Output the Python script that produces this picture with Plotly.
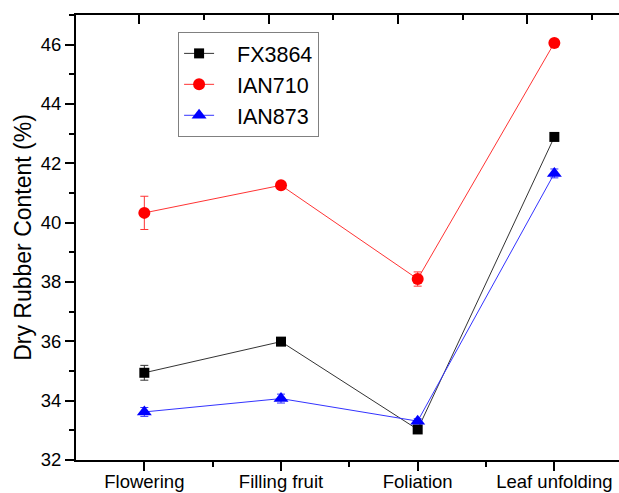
import plotly.graph_objects as go

stages = ["Flowering", "Filling fruit", "Foliation", "Leaf unfolding"]
series_names = ["FX3864", "IAN710", "IAN873"]
fx3864 = [34.94, 35.99, 33.03, 42.89]
fx3864_err = [0.25, 0.08, 0.08, 0.08]
ian710 = [40.33, 41.26, 38.10, 46.06]
ian710_err = [0.56, 0.08, 0.24, 0.10]
ian873 = [33.62, 34.07, 33.31, 41.66]
ian873_err = [0.15, 0.15, 0.08, 0.15]

xpos = [1, 2, 3, 4]
FONT = "Arial, Liberation Sans, sans-serif"
PAD = "\u00a0\u00a0\u00a0"

fig = go.Figure()

def add(name, y, err, color, linecolor, symbol, size):
    fig.add_trace(go.Scatter(
        x=xpos, y=y, name=PAD + name, mode="lines+markers",
        line=dict(color=linecolor, width=1),
        marker=dict(color=color, symbol=symbol, size=size, line=dict(width=0)),
        error_y=dict(type="data", array=err, visible=True, color=linecolor,
                     thickness=1, width=4),
    ))

add(series_names[0], fx3864, fx3864_err, "#000000", "#333333", "square", 10)
add(series_names[1], ian710, ian710_err, "#ff0000", "#ff3333", "circle", 12)
add(series_names[2], ian873, ian873_err, "#0000ff", "#3333ff", "triangle-up", 13)

# invisible trace for the top mirrored axis
fig.add_trace(go.Scatter(x=[1], y=[40], xaxis="x2", mode="markers",
                         marker=dict(opacity=0), showlegend=False, hoverinfo="skip"))

fig.update_layout(
    width=619, height=493,
    margin=dict(l=76, r=0, t=15, b=33, autoexpand=False),
    paper_bgcolor="white", plot_bgcolor="white",
    font=dict(family=FONT, color="black", size=18.5),
    showlegend=True,
    legend=dict(
        x=0.188, y=0.962, xanchor="left", yanchor="top",
        bordercolor="#808080", borderwidth=1, bgcolor="white",
        font=dict(family=FONT, size=21.5, color="black"),
        tracegroupgap=0, itemwidth=30,
    ),
    xaxis=dict(
        range=[0.5, 4.473], tickmode="array", tickvals=xpos, ticktext=stages,
        showgrid=False, zeroline=False, showline=True, linecolor="black", linewidth=2,
        ticks="outside", ticklen=9, tickwidth=2, tickcolor="black", automargin=False,
        ticklabelstandoff=-5,
        minor=dict(tickmode="array", tickvals=[1.5, 2.5, 3.5], ticks="outside",
                   ticklen=5, tickwidth=2, tickcolor="black"),
        tickfont=dict(size=18.5),
    ),
    xaxis2=dict(
        overlaying="x", side="top", range=[0.51, 4.71],
        tickmode="linear", tick0=0, dtick=1, showticklabels=False, automargin=False,
        showgrid=False, zeroline=False, showline=True, linecolor="black", linewidth=2,
        ticks="inside", ticklen=9, tickwidth=2, tickcolor="black",
        minor=dict(dtick=0.5, ticks="inside", ticklen=5, tickwidth=2, tickcolor="black"),
    ),
    yaxis=dict(
        range=[32, 47], tickmode="linear", tick0=32, dtick=2, automargin=False,
        showgrid=False, zeroline=False, showline=True, linecolor="black", linewidth=2,
        ticks="outside", ticklen=9, tickwidth=2, tickcolor="black",
        minor=dict(dtick=1, ticks="outside", ticklen=5, tickwidth=2, tickcolor="black"),
        tickfont=dict(size=18.5),
        title=dict(text="Dry Rubber Content (%)", font=dict(size=23), standoff=3),
    ),
)

fig.write_html("out.html")
